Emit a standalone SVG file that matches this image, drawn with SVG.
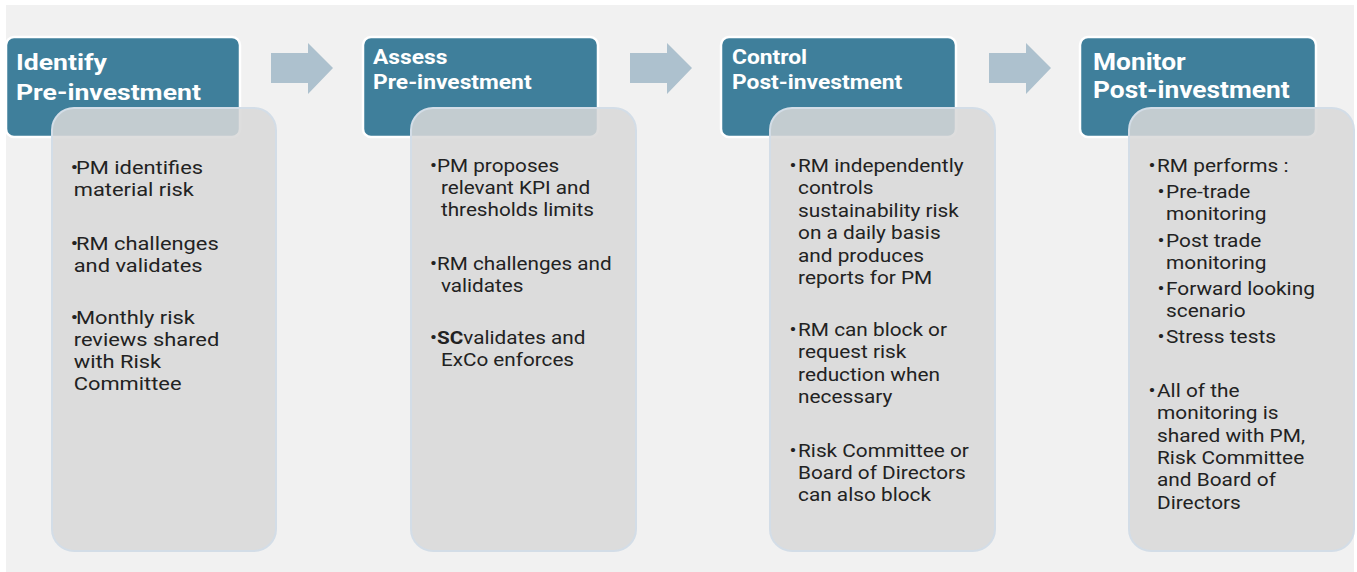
<svg xmlns="http://www.w3.org/2000/svg" width="1357" height="572" viewBox="0 0 1357 572">
<style>
.bg{fill:#f1f1f1}
.hdr{fill:#3f7f9b;stroke:#ffffff;stroke-width:2.5}
.body{fill:#d9d9d9;fill-opacity:0.86;stroke:#d3dde7;stroke-width:2}
.arrow{fill:#adc1ce}
.ht{font-family:Roboto,"Liberation Sans",sans-serif;font-weight:bold;fill:#ffffff}
.h1{font-size:23px}
.h2{font-size:20px}
.t{font-family:Roboto,"Liberation Sans",sans-serif;font-size:19px;fill:#222222}
</style>
<rect class="bg" x="6" y="5" width="1348" height="567"/>
<g id="connectors">
<path class="arrow" d="M271,53 H308 V43 L333,68 L308,94 V83 H271 Z"/>
<path class="arrow" d="M630,53 H667 V43 L692,68 L667,94 V83 H630 Z"/>
<path class="arrow" d="M989,53 H1026 V43 L1051,68 L1026,94 V83 H989 Z"/>
</g>
<g id="identify">
<rect class="hdr" x="6" y="37" width="234" height="100" rx="8"/>
<g transform="matrix(1.156 0 0 1 -2.5 0)">
<text class="ht h1" x="16" y="70">Identify</text>
<text class="ht h1" x="16" y="100">Pre-investment</text>
</g>
<rect class="body" x="52" y="108" width="224" height="443" rx="22"/>
<text class="t" transform="matrix(1.15 0 0 1 -10.8 0)"><tspan x="71" y="174">•</tspan><tspan x="75.5" y="174">PM identifies</tspan><tspan x="73.5" y="196">material risk</tspan><tspan x="71" y="250">•</tspan><tspan x="75.5" y="250">RM challenges</tspan><tspan x="73.5" y="272">and validates</tspan><tspan x="71" y="324">•</tspan><tspan x="75.5" y="324">Monthly risk</tspan><tspan x="73.5" y="346">reviews shared</tspan><tspan x="73.5" y="368">with Risk</tspan><tspan x="73.5" y="390">Committee</tspan></text>
</g>
<g id="assess">
<rect class="hdr" x="363" y="37" width="235" height="100" rx="8"/>
<g transform="matrix(1.14 0 0 1 -52.2 0)">
<text class="ht h2" x="373" y="64">Assess</text>
<text class="ht h2" x="373" y="89">Pre-investment</text>
</g>
<rect class="body" x="411" y="108" width="225" height="443" rx="22"/>
<text class="t" transform="matrix(1.09 0 0 1 -38.7 0)"><tspan x="430" y="172">•</tspan><tspan x="436.4" y="172">PM proposes</tspan><tspan x="440" y="194">relevant KPI and</tspan><tspan x="440" y="216">thresholds limits</tspan><tspan x="430" y="270">•</tspan><tspan x="436.4" y="270">RM challenges and</tspan><tspan x="440" y="292">validates</tspan><tspan x="430" y="344">•</tspan><tspan x="436.4" y="344"><tspan font-weight="bold">SC</tspan>validates and</tspan><tspan x="440" y="366">ExCo enforces</tspan></text>
</g>
<g id="control">
<rect class="hdr" x="721" y="37" width="235" height="100" rx="8"/>
<g transform="matrix(1.14 0 0 1 -102.5 0)">
<text class="ht h2" x="732" y="64">Control</text>
<text class="ht h2" x="732" y="89">Post-investment</text>
</g>
<rect class="body" x="770" y="108" width="225" height="443" rx="22"/>
<text class="t" transform="matrix(1.095 0 0 1 -75 0)"><tspan x="789.5" y="172">•</tspan><tspan x="797.3" y="172">RM independently</tspan><tspan x="797.3" y="194">controls</tspan><tspan x="797.3" y="217">sustainability risk</tspan><tspan x="797.3" y="239">on a daily basis</tspan><tspan x="797.3" y="262">and produces</tspan><tspan x="797.3" y="284">reports for PM</tspan><tspan x="789.5" y="336">•</tspan><tspan x="797.3" y="336">RM can block or</tspan><tspan x="797.3" y="358">request risk</tspan><tspan x="797.3" y="381">reduction when</tspan><tspan x="797.3" y="403">necessary</tspan><tspan x="789.5" y="457">•</tspan><tspan x="797.3" y="457">Risk Committee or</tspan><tspan x="797.3" y="479">Board of Directors</tspan><tspan x="797.3" y="501">can also block</tspan></text>
</g>
<g id="monitor">
<rect class="hdr" x="1080" y="37" width="236" height="100" rx="8"/>
<g transform="matrix(1.145 0 0 1 -158.5 0)">
<text class="ht h1" x="1093" y="70">Monitor</text>
<text class="ht h1" x="1093" y="98">Post-investment</text>
</g>
<rect class="body" x="1129" y="108" width="225" height="443" rx="22"/>
<text class="t" transform="matrix(1.097 0 0 1 -111.4 0)"><tspan x="1148.5" y="172">•</tspan><tspan x="1156.25" y="172">RM performs :</tspan><tspan x="1156.7" y="198">•</tspan><tspan x="1164.45" y="198">Pre-trade</tspan><tspan x="1164.45" y="220">monitoring</tspan><tspan x="1156.7" y="247">•</tspan><tspan x="1164.45" y="247">Post trade</tspan><tspan x="1164.45" y="269">monitoring</tspan><tspan x="1156.7" y="295">•</tspan><tspan x="1164.45" y="295">Forward looking</tspan><tspan x="1164.45" y="317">scenario</tspan><tspan x="1156.7" y="343">•</tspan><tspan x="1164.45" y="343">Stress tests</tspan><tspan x="1148.5" y="397">•</tspan><tspan x="1156.25" y="397">All of the</tspan><tspan x="1156.25" y="419">monitoring is</tspan><tspan x="1156.25" y="442">shared with PM,</tspan><tspan x="1156.25" y="464">Risk Committee</tspan><tspan x="1156.25" y="486">and Board of</tspan><tspan x="1156.25" y="509">Directors</tspan></text>
</g>
</svg>
